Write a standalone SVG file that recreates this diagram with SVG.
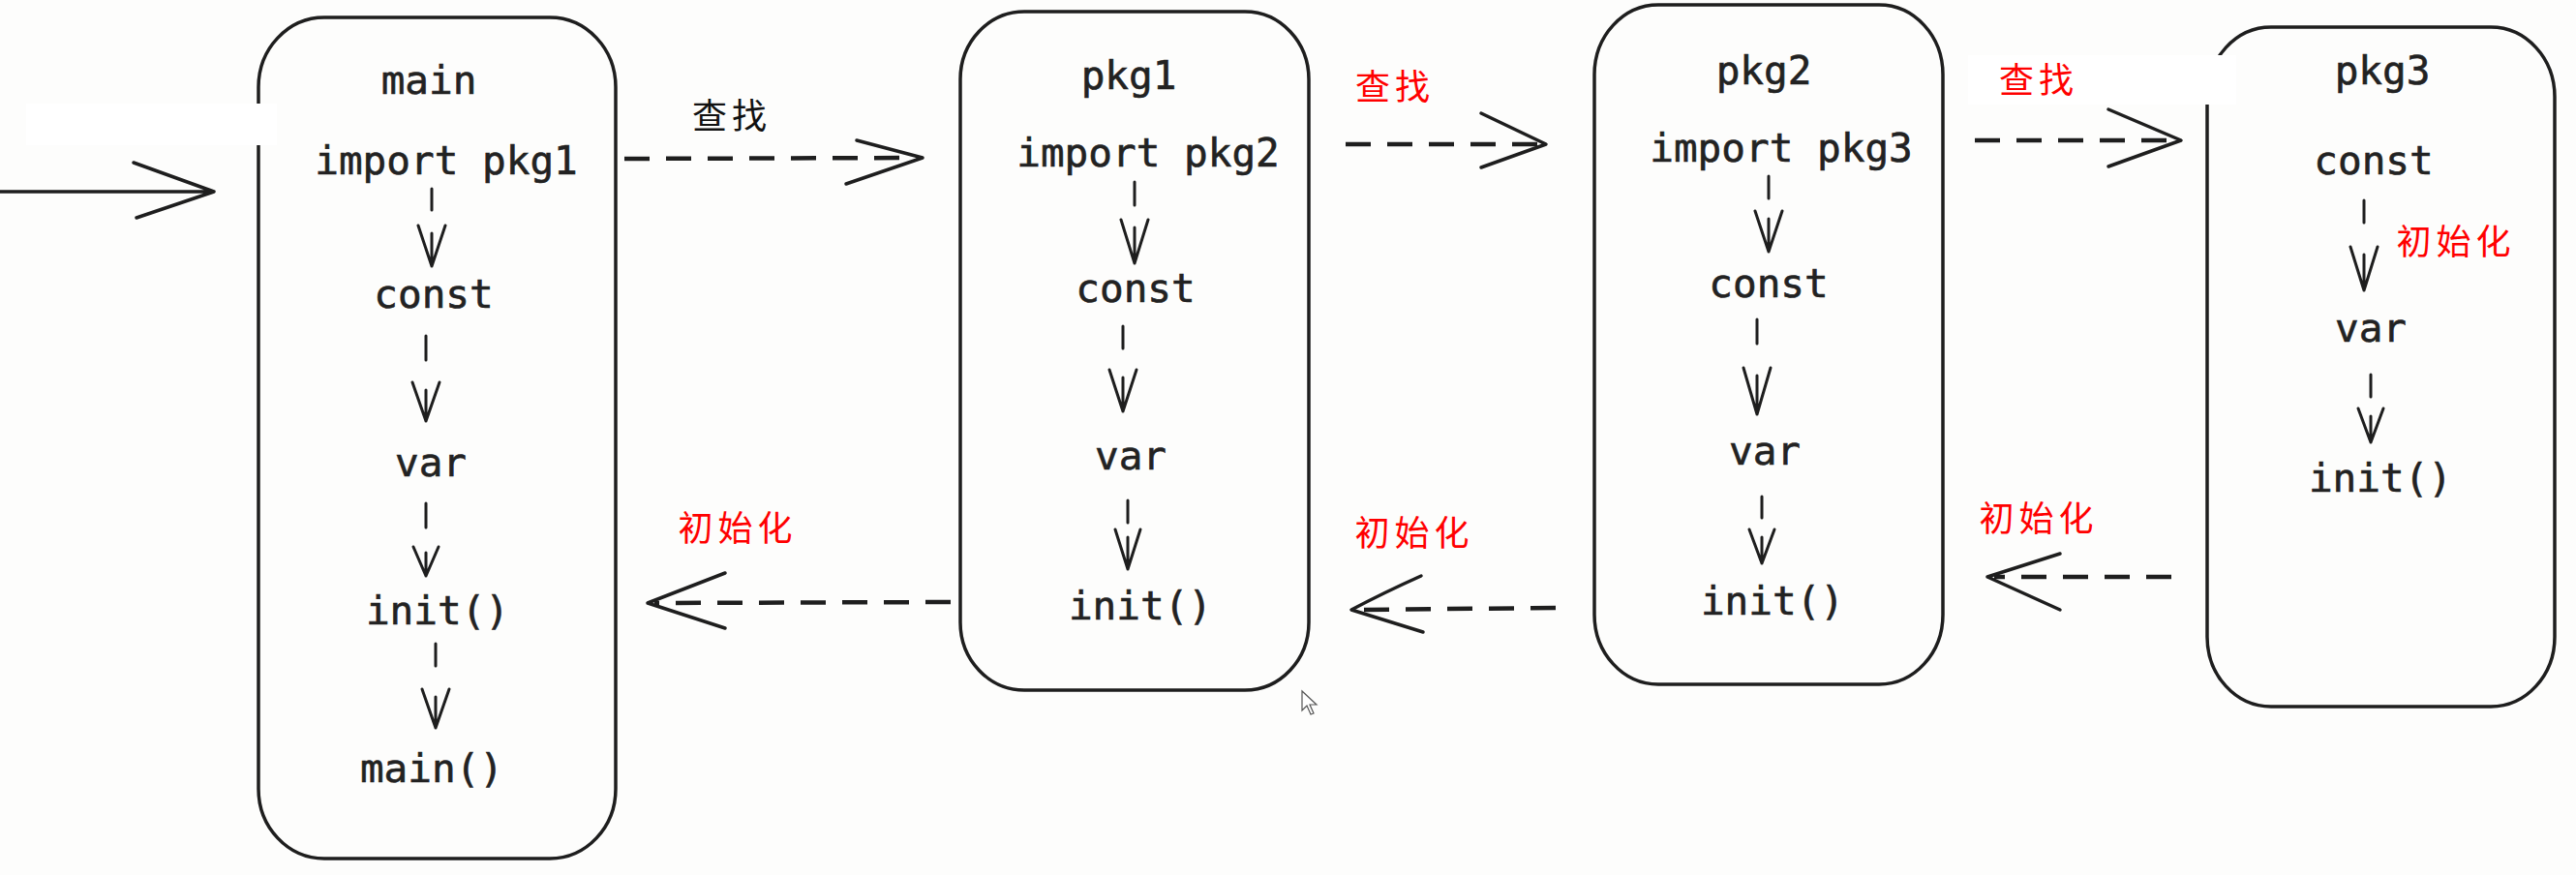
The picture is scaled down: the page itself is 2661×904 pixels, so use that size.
<svg xmlns="http://www.w3.org/2000/svg" width="2661" height="904" viewBox="0 0 2661 904">
<style>
.bg{fill:#fdfdfc}
.box{fill:none;stroke:#1e1e1e;stroke-width:3.5}
.code{font-family:"DejaVu Sans Mono","Liberation Mono",monospace;font-size:41px;fill:#222;stroke:#222;stroke-width:0.6;text-anchor:middle}
.cn{font-family:"Noto Sans CJK SC",sans-serif;font-size:36px;letter-spacing:5px;text-anchor:middle}
.red{fill:#ff0000}
.blk{fill:#111}
.dash{fill:none;stroke:#1e1e1e;stroke-width:4.5;stroke-dasharray:26 17}
.head{fill:none;stroke:#1e1e1e;stroke-width:3.5;stroke-linecap:round;stroke-linejoin:round}
.v{fill:none;stroke:#1e1e1e;stroke-width:3;stroke-linecap:round;stroke-linejoin:round}
.patch{fill:#ffffff}
</style>
<rect class="bg" x="0" y="0" width="2661" height="904"/>

<g id="node-main">
<rect class="box" x="267" y="18" width="369" height="869" rx="68" ry="72"/>
<text class="code" x="443" y="97">main</text>
<text class="code" x="461" y="180">import pkg1</text>
<text class="code" x="448" y="318">const</text>
<text class="code" x="445" y="492">var</text>
<text class="code" x="452" y="645">init()</text>
<text class="code" x="446" y="808">main()</text>
</g>

<g id="node-pkg1">
<rect class="box" x="992" y="12" width="360" height="701" rx="66" ry="70"/>
<text class="code" x="1166" y="92">pkg1</text>
<text class="code" x="1186" y="172">import pkg2</text>
<text class="code" x="1173" y="312">const</text>
<text class="code" x="1168" y="485">var</text>
<text class="code" x="1178" y="640">init()</text>
</g>

<g id="node-pkg2">
<rect class="box" x="1647" y="5" width="360" height="702" rx="66" ry="72"/>
<text class="code" x="1822" y="87">pkg2</text>
<text class="code" x="1840" y="167">import pkg3</text>
<text class="code" x="1827" y="307">const</text>
<text class="code" x="1823" y="480">var</text>
<text class="code" x="1831" y="635">init()</text>
</g>

<g id="node-pkg3">
<rect class="box" x="2280" y="28" width="359" height="702" rx="66" ry="72"/>
<text class="code" x="2461" y="87">pkg3</text>
<text class="code" x="2452" y="180">const</text>
<text class="code" x="2449" y="353">var</text>
<text class="code" x="2459" y="508">init()</text>
</g>

<g id="patches">
<rect class="patch" x="27" y="107" width="259" height="43"/>
<rect class="patch" x="2033" y="57" width="277" height="51"/>
</g>

<g id="connectors">
<path class="head" d="M0 198 L221 198 M138 168 L221 198 L141 225"/>
<path class="dash" d="M645 164 L945 163"/>
<path class="head" d="M885 145 L953 163 L874 190"/>
<path class="dash" d="M1390 149 L1590 149"/>
<path class="head" d="M1530 117 L1597 149 L1530 173"/>
<path class="dash" d="M2040 145 L2246 145"/>
<path class="head" d="M2178 113 L2253 145 L2178 172"/>
<path class="dash" d="M982 622 L676 623"/>
<path class="head" d="M749 592 L669 623 L749 649"/>
<path class="dash" d="M1607 628 L1403 630"/>
<path class="head" d="M1468 595 Q1430 612 1396 630 L1470 653"/>
<path class="dash" d="M2243 596 L2060 596"/>
<path class="head" d="M2128 572 L2053 596 L2128 630"/>

<path class="v" d="M446 195 L446 217 M432 233 L446 275 L460 233 M446 241 L446 275"/>
<path class="v" d="M440 347 L440 372 M426 395 L440 435 L454 395 M440 403 L440 435"/>
<path class="v" d="M440 520 L440 545 M427 565 L440 595 L453 565 M440 571 L440 595"/>
<path class="v" d="M450 665 L450 688 M436 712 L450 752 L464 712 M450 720 L450 752"/>
<path class="v" d="M1172 188 L1172 212 M1158 227 L1172 272 L1186 227 M1172 235 L1172 272"/>
<path class="v" d="M1160 337 L1160 360 M1146 382 L1160 425 L1174 382 M1160 390 L1160 425"/>
<path class="v" d="M1165 517 L1165 540 M1152 547 L1165 588 L1178 547 M1165 555 L1165 588"/>
<path class="v" d="M1827 182 L1827 205 M1813 218 L1827 260 L1841 218 M1827 226 L1827 260"/>
<path class="v" d="M1815 330 L1815 355 M1801 380 L1815 428 L1829 380 M1815 388 L1815 428"/>
<path class="v" d="M1820 513 L1820 535 M1807 547 L1820 582 L1833 547 M1820 555 L1820 582"/>
<path class="v" d="M2442 207 L2442 230 M2428 255 L2442 300 L2456 255 M2442 263 L2442 300"/>
<path class="v" d="M2449 387 L2449 410 M2436 422 L2449 457 L2462 422 M2449 430 L2449 457"/>
</g>

<g id="labels">
<text class="cn blk" x="756" y="133">查找</text>
<text class="cn red" x="1441" y="103">查找</text>
<text class="cn red" x="2106" y="96">查找</text>
<text class="cn red" x="762" y="559">初始化</text>
<text class="cn red" x="1461" y="564">初始化</text>
<text class="cn red" x="2106" y="549">初始化</text>
<text class="cn red" x="2537" y="263">初始化</text>
</g>

<g id="cursor">
<path d="M1345 714 L1345 734 L1350 729 L1354 738 L1357 737 L1353 728 L1360 728 Z" fill="#fff" stroke="#555" stroke-width="1.2"/>
</g>
</svg>
